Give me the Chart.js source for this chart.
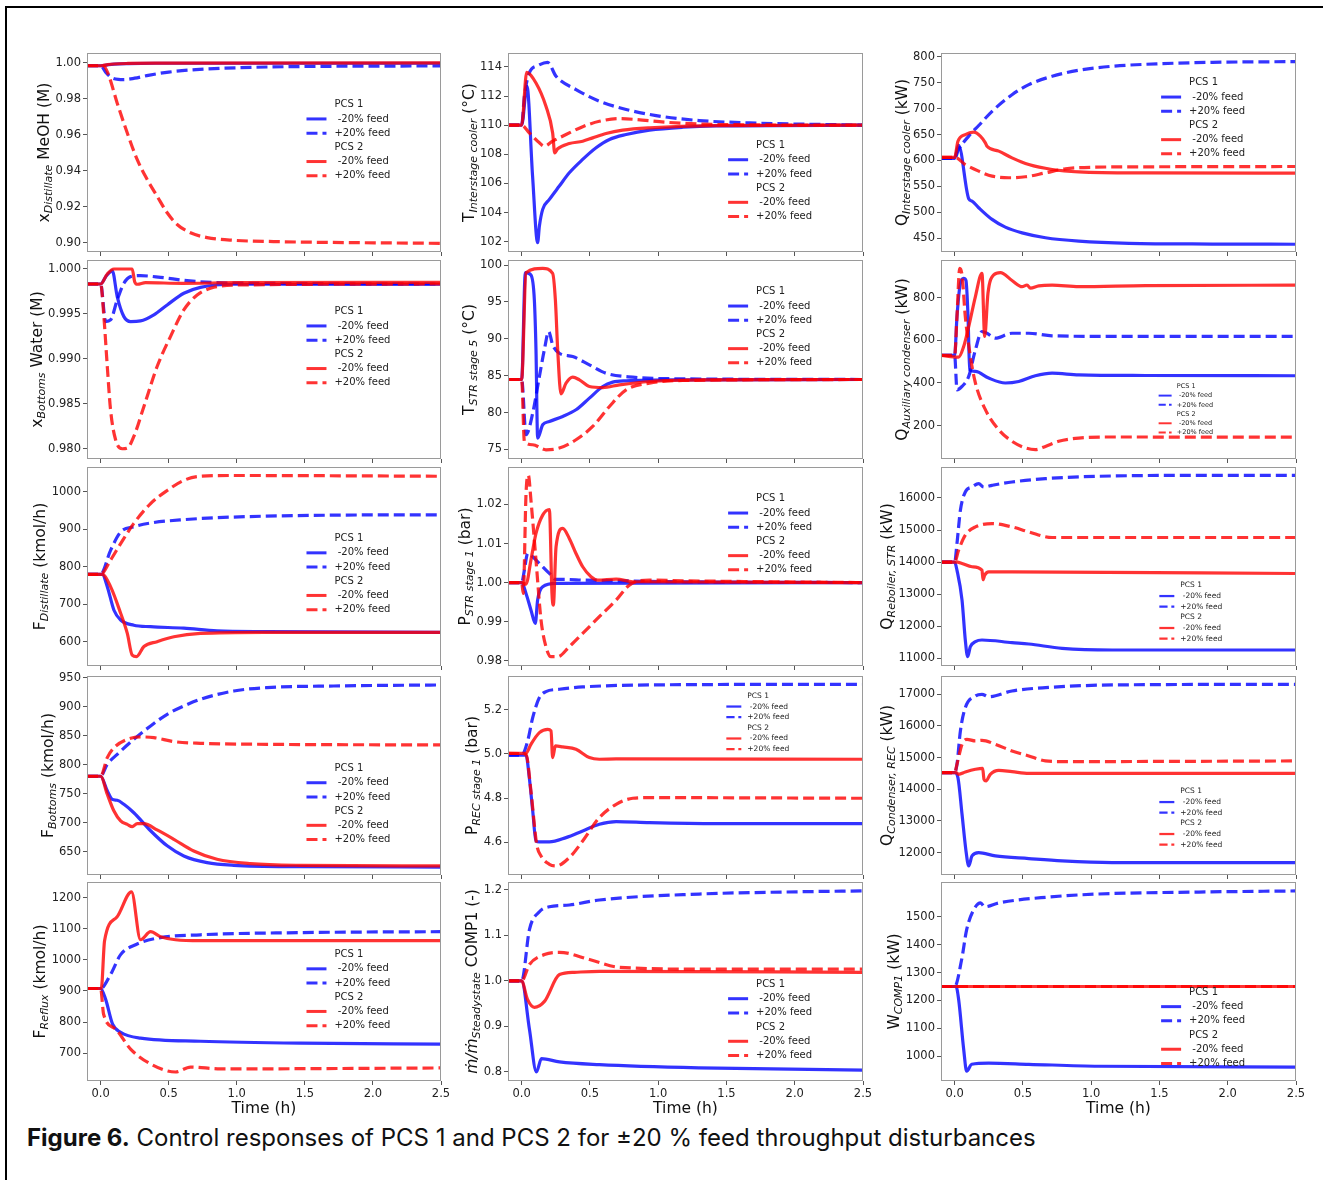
<!DOCTYPE html>
<html>
<head>
<meta charset="utf-8">
<script src="https://cdn.jsdelivr.net/npm/chart.js@4.4.1/dist/chart.umd.min.js"></script>
<style>
  body { margin: 0; background: #fff; width: 1323px; height: 1180px; position: relative; overflow: hidden; }
  #frame { position: absolute; left: 5px; top: 6px; width: 1330px; height: 1200px; border-left: 2px solid #000; border-top: 2px solid #000; }
  canvas { position: absolute; }
  #cap { position: absolute; left: 27px; top: 1124px; font: 24px Inter, 'Noto Sans', sans-serif; line-height: 28px; color: #111; white-space: nowrap; }
</style>
</head>
<body>
<div id="frame"></div>
<div id="cap"><b>Figure 6.</b> Control responses of PCS 1 and PCS 2 for ±20 % feed throughput disturbances</div>
<script>
// time axis (h)
const timeTicks = [0, 0.5, 1.0, 1.5, 2.0, 2.5];
const groupNames = ['PCS 1', 'PCS 2'];
const caseNames = [' -20% feed', '+20% feed'];

// x Distillate MeOH
const xDistTicks = [0.90, 0.92, 0.94, 0.96, 0.98, 1.00];
const xDistPcs1Minus = [[-0.1,0.9983],[0,0.9983],[0.05,0.9988],[0.1,0.9992],[0.2,0.9995],[0.4,0.9997],[2.5,0.9997]];
const xDistPcs1Plus = [[-0.1,0.9983],[0,0.9983],[0.04,0.9945],[0.08,0.9917],[0.13,0.9907],[0.17,0.9906],[0.25,0.9914],[0.35,0.9930],[0.5,0.9948],[0.7,0.9962],[1.0,0.9972],[1.5,0.9979],[2.0,0.9981],[2.5,0.9982]];
const xDistPcs2Minus = [[-0.1,0.9983],[0,0.9983],[0.05,0.9989],[0.1,0.9993],[0.2,0.9996],[0.4,0.9998],[2.5,0.9999]];
const xDistPcs2Plus = [[-0.1,0.9983],[0.02,0.9983],[0.054,0.9941],[0.122,0.9775],[0.196,0.9609],[0.269,0.9461],[0.342,0.9351],[0.415,0.9258],[0.489,0.9166],[0.562,0.9101],[0.66,0.9055],[0.782,0.9028],[0.978,0.9013],[1.27,0.9006],[2.5,0.8996]];

// T interstage cooler
const tInterTicks = [102, 104, 106, 108, 110, 112, 114];
const tInterPcs1Minus = [[-0.1,110],[0,110],[0.039,112.67],[0.08,106.5],[0.117,101.93],[0.13,103.07],[0.154,104.22],[0.203,104.9],[0.276,105.82],[0.349,106.73],[0.447,107.65],[0.545,108.45],[0.643,109.02],[0.765,109.36],[0.936,109.66],[1.18,109.86],[1.425,109.95],[2.5,110]];
const tInterPcs1Plus = [[-0.1,110],[0,110],[0.02,112],[0.056,113.59],[0.12,114.1],[0.19,114.32],[0.252,113.36],[0.398,112.45],[0.569,111.65],[0.765,111.08],[0.985,110.66],[1.3,110.32],[1.67,110.16],[2.5,110]];
const tInterPcs2Minus = [[-0.1,110],[0,110],[0.037,113.63],[0.105,112.9],[0.178,111.3],[0.227,109.47],[0.242,108.1],[0.264,108.38],[0.349,108.74],[0.447,108.9],[0.52,109.13],[0.618,109.43],[0.74,109.66],[0.936,109.82],[1.4,109.97],[2.5,110]];
const tInterPcs2Plus = [[-0.1,110],[0,110],[0.056,109.47],[0.13,108.79],[0.166,108.56],[0.227,108.9],[0.325,109.36],[0.447,109.9],[0.569,110.27],[0.716,110.45],[0.838,110.39],[1.058,110.2],[1.425,110.05],[2.5,110]];

// Q interstage cooler
const qInterTicks = [450, 500, 550, 600, 650, 700, 750, 800];
const qInterPcs1Minus = [[-0.1,604],[0,604],[0.029,629],[0.103,526],[0.127,521.4],[0.176,508.6],[0.274,486],[0.371,471],[0.494,460],[0.665,450.6],[0.909,444],[1.276,439.7],[1.887,438.4],[2.5,438]];
const qInterPcs1Plus = [[-0.1,604],[0,604],[0.029,621],[0.103,647],[0.176,667.5],[0.274,695],[0.42,727],[0.543,746.6],[0.714,762.7],[0.909,774.3],[1.153,782],[1.52,787.1],[1.887,789.7],[2.5,791]];
const qInterPcs2Minus = [[-0.1,606],[0,606],[0.024,637],[0.078,650],[0.139,654.6],[0.188,647],[0.225,634],[0.237,627.6],[0.323,618],[0.42,605],[0.543,592],[0.714,582.5],[0.909,578],[1.398,576],[2.5,575.5]];
const qInterPcs2Plus = [[-0.1,606],[0,606],[0.078,592],[0.176,579.3],[0.274,569.7],[0.396,566.5],[0.518,568.4],[0.665,576],[0.811,583.8],[1.031,587],[1.398,587.7],[2.5,588.3]];

// x Bottoms water
const xBotTicks = [0.980, 0.985, 0.990, 0.995, 1.000];
const xBotPcs1Minus = [[-0.1,0.99833],[0,0.99833],[0.04,0.9992],[0.086,0.9998],[0.122,0.99693],[0.171,0.9947],[0.22,0.99415],[0.293,0.99422],[0.391,0.99489],[0.489,0.996],[0.611,0.9973],[0.733,0.99796],[0.978,0.9983],[2.5,0.9983]];
const xBotPcs1Plus = [[-0.1,0.99833],[0,0.99833],[0.037,0.99415],[0.073,0.99433],[0.122,0.99656],[0.171,0.99841],[0.22,0.99915],[0.293,0.99926],[0.44,0.99907],[0.635,0.9987],[0.855,0.99848],[1.222,0.9984],[2.5,0.99833]];
const xBotPcs2Minus = [[-0.1,0.99833],[0,0.99833],[0.049,0.99944],[0.098,1.0],[0.232,1.0],[0.25,0.99859],[0.27,0.9983],[0.33,0.99848],[0.6,0.9984],[1.0,0.99848],[2.5,0.99852]];
const xBotPcs2Plus = [[-0.1,0.99833],[0,0.99833],[0.024,0.9947],[0.049,0.98915],[0.073,0.98433],[0.11,0.981],[0.159,0.980],[0.196,0.98007],[0.244,0.98137],[0.318,0.9847],[0.415,0.98915],[0.513,0.99248],[0.611,0.99544],[0.709,0.99711],[0.831,0.99796],[1.026,0.99822],[2.5,0.99833]];

// T STR stage 5
const tStrTicks = [75, 80, 85, 90, 95, 100];
const tStrPcs1Minus = [[-0.1,84.48],[0,84.48],[0.027,98.96],[0.068,98.65],[0.093,95.26],[0.105,88.5],[0.117,76.53],[0.154,78.34],[0.203,78.79],[0.301,79.47],[0.398,80.37],[0.496,81.95],[0.594,83.53],[0.667,84.12],[0.765,84.3],[1.2,84.43],[2.5,84.48]];
const tStrPcs1Plus = [[-0.1,84.48],[0,84.48],[0.032,76.99],[0.081,79.92],[0.13,84.88],[0.166,88.49],[0.198,90.97],[0.227,89.17],[0.276,88.04],[0.374,87.59],[0.496,86.46],[0.618,85.33],[0.814,84.79],[1.18,84.57],[2.5,84.48]];
const tStrPcs2Minus = [[-0.1,84.48],[0,84.48],[0.032,98.96],[0.154,99.55],[0.227,98.87],[0.247,95.26],[0.264,88.5],[0.288,82.54],[0.325,83.98],[0.374,84.79],[0.423,84.43],[0.496,83.53],[0.594,83.39],[0.716,83.75],[0.936,84.21],[1.425,84.43],[2.5,84.48]];
const tStrPcs2Plus = [[-0.1,84.48],[0,84.48],[0.02,76.08],[0.081,75.63],[0.178,74.95],[0.276,75.18],[0.398,76.31],[0.52,78.11],[0.643,80.82],[0.765,83.08],[0.936,83.98],[1.18,84.34],[2.5,84.48]];

// Q auxiliary condenser
const qAuxTicks = [200, 400, 600, 800];
const qAuxPcs1Minus = [[-0.1,529],[0,529],[0.017,711],[0.042,867],[0.066,890],[0.083,880],[0.098,711],[0.11,462],[0.152,454],[0.249,423],[0.371,400],[0.469,407],[0.591,434],[0.714,446],[0.909,438],[1.398,435],[2.5,434]];
const qAuxPcs1Plus = [[-0.1,529],[0,529],[0.017,368],[0.054,384],[0.103,431],[0.152,555],[0.2,641],[0.237,633],[0.298,610],[0.42,633],[0.543,633],[0.714,621],[1.153,618],[2.5,618]];
const qAuxPcs2Minus = [[-0.1,529],[0.029,521],[0.066,571],[0.103,664],[0.152,805],[0.2,914],[0.22,618],[0.244,820],[0.286,906],[0.335,917],[0.42,880],[0.494,851],[0.53,859],[0.555,844],[0.616,855],[0.714,858],[0.909,851],[1.398,856],[2.5,858]];
const qAuxPcs2Plus = [[-0.1,529],[0,529],[0.017,711],[0.037,937],[0.054,906],[0.078,711],[0.115,524],[0.152,400],[0.225,275],[0.323,181],[0.42,127],[0.518,96],[0.591,88],[0.665,103],[0.762,127],[0.909,142],[1.153,147],[2.5,146]];

// F Distillate
const fDistTicks = [600, 700, 800, 900, 1000];
const fDistPcs1Minus = [[-0.1,780],[0.012,780],[0.049,747],[0.098,684],[0.147,658],[0.244,644],[0.367,640],[0.611,636],[0.855,629],[1.222,627],[2.5,625]];
const fDistPcs1Plus = [[-0.1,780],[0,780],[0.073,844],[0.147,893],[0.244,907],[0.367,917],[0.611,926],[0.978,933],[1.711,938],[2.5,939]];
const fDistPcs2Minus = [[-0.1,780],[0.012,780],[0.073,747],[0.147,676],[0.196,622],[0.232,564],[0.264,560],[0.318,587],[0.415,600],[0.538,613],[0.733,622],[1.2,625],[2.5,625]];
const fDistPcs2Plus = [[-0.1,780],[0,780],[0.073,818],[0.147,862],[0.244,916],[0.367,969],[0.489,1004],[0.611,1031],[0.733,1042],[0.978,1044],[2.5,1042]];

// P STR stage 1
const pStrTicks = [0.98, 0.99, 1.00, 1.01, 1.02];
const pStrPcs1Minus = [[-0.1,1.0],[0,1.0],[0.032,0.99723],[0.068,0.993],[0.1,0.98955],[0.117,0.99552],[0.154,0.99893],[0.252,0.99979],[2.5,1.0]];
const pStrPcs1Plus = [[-0.1,1.0],[0,1.0],[0.02,1.0032],[0.044,1.00746],[0.081,1.0066],[0.13,1.0049],[0.203,1.00234],[0.252,1.00081],[0.325,1.00081],[0.447,1.00064],[0.692,1.00047],[1.2,1.0002],[2.5,1.0]];
const pStrPcs2Minus = [[-0.1,1.0],[0,1.0],[0.032,0.99962],[0.068,1.00576],[0.105,1.01258],[0.154,1.01727],[0.203,1.01872],[0.222,0.99723],[0.232,0.99424],[0.252,1.00917],[0.301,1.01386],[0.349,1.0113],[0.398,1.00746],[0.447,1.00405],[0.508,1.0015],[0.557,1.00064],[0.692,1.0009],[0.814,1.00021],[2.5,1.0]];
const pStrPcs2Plus = [[-0.1,1.0],[0,1.0],[0.012,0.99723],[0.032,1.02281],[0.049,1.0275],[0.068,1.02111],[0.105,1.00576],[0.142,0.9904],[0.178,0.98358],[0.215,0.98102],[0.264,0.98102],[0.349,0.98358],[0.447,0.98699],[0.569,0.99126],[0.692,0.99552],[0.789,0.99936],[0.936,1.00064],[1.18,1.00047],[2.5,1.0]];

// Q reboiler STR
const qRebTicks = [11000, 12000, 13000, 14000, 15000, 16000];
const qRebPcs1Minus = [[-0.1,14000],[0,14000],[0.017,13749],[0.054,12815],[0.078,11571],[0.095,11052],[0.115,11363],[0.152,11519],[0.2,11571],[0.42,11488],[0.543,11446],[0.787,11311],[1.153,11259],[2.5,11259]];
const qRebPcs1Plus = [[-0.1,14000],[0,14000],[0.017,14579],[0.042,15616],[0.078,16187],[0.127,16342],[0.176,16446],[0.213,16342],[0.274,16394],[0.42,16498],[0.665,16602],[1.153,16685],[1.887,16705],[2.5,16705]];
const qRebPcs2Minus = [[-0.1,14000],[0.02,14000],[0.054,13958],[0.127,13855],[0.2,13751],[0.208,13450],[0.22,13593],[0.249,13697],[0.42,13697],[2.5,13645]];
const qRebPcs2Plus = [[-0.1,14000],[0,14000],[0.029,14371],[0.078,14838],[0.152,15097],[0.274,15201],[0.42,15097],[0.543,14942],[0.714,14766],[2.5,14766]];

// F Bottoms
const fBotTicks = [650, 700, 750, 800, 850, 900, 950];
const fBotPcs1Minus = [[-0.1,780],[0,780],[0.049,755],[0.086,740],[0.122,738.5],[0.171,731.6],[0.244,717],[0.367,686],[0.489,660],[0.611,642.5],[0.782,631],[0.978,626.4],[1.466,624.1],[2.5,623.4]];
const fBotPcs1Plus = [[-0.1,780],[0,780],[0.049,800.6],[0.122,817.8],[0.244,843.7],[0.367,866.7],[0.489,886.8],[0.611,901.1],[0.733,912.6],[0.978,927],[1.222,932.8],[1.711,935.6],[2.5,937.4]];
const fBotPcs2Minus = [[-0.1,780],[0,780],[0.049,748.9],[0.098,720],[0.147,703],[0.196,697],[0.232,693],[0.269,698.3],[0.318,698.3],[0.415,687.4],[0.538,671.3],[0.684,651],[0.855,636.8],[1.1,629.3],[1.466,626.4],[2.5,625.3]];
const fBotPcs2Plus = [[-0.1,780],[0,780],[0.049,812],[0.098,829],[0.196,843.7],[0.293,847.7],[0.391,846.6],[0.538,839.7],[0.733,836.8],[1.222,835],[2.5,834]];

// P REC stage 1
const pRecTicks = [4.6, 4.8, 5.0, 5.2];
const pRecPcs1Minus = [[-0.1,4.9935],[0.032,4.9935],[0.056,4.8924],[0.081,4.7417],[0.105,4.606],[0.13,4.6015],[0.203,4.6015],[0.325,4.6211],[0.447,4.6512],[0.569,4.6814],[0.692,4.6934],[0.936,4.6889],[1.425,4.6844],[2.5,4.6844]];
const pRecPcs1Plus = [[-0.1,4.9935],[0,4.9935],[0.044,5.0583],[0.081,5.1638],[0.13,5.2543],[0.178,5.2814],[0.276,5.292],[0.447,5.3025],[0.936,5.3116],[2.5,5.3146]];
const pRecPcs2Minus = [[-0.1,5.0025],[0.032,5.0025],[0.068,5.0432],[0.13,5.096],[0.191,5.111],[0.215,5.1035],[0.227,4.9829],[0.247,5.0357],[0.301,5.0312],[0.398,5.0206],[0.496,4.9829],[0.569,4.9754],[0.692,4.9769],[2.5,4.9754]];
const pRecPcs2Plus = [[-0.1,5.0025],[0.032,4.998],[0.068,4.8321],[0.11,4.5909],[0.142,4.5382],[0.203,4.5005],[0.252,4.4929],[0.349,4.5306],[0.447,4.606],[0.569,4.7115],[0.692,4.7718],[0.814,4.799],[0.936,4.802],[2.5,4.799]];

// Q condenser REC
const qCondTicks = [12000, 13000, 14000, 15000, 16000, 17000];
const qCondPcs1Minus = [[-0.1,14526],[0,14526],[0.024,14368],[0.054,13211],[0.083,12053],[0.103,11579],[0.127,11895],[0.176,12000],[0.298,11895],[0.543,11811],[0.787,11737],[1.153,11684],[2.5,11684]];
const qCondPcs1Plus = [[-0.1,14526],[0,14526],[0.017,14789],[0.042,15842],[0.078,16579],[0.152,16947],[0.2,17000],[0.249,16926],[0.42,17105],[0.665,17211],[1.153,17295],[2.5,17316]];
const qCondPcs2Minus = [[-0.1,14526],[0.01,14526],[0.029,14474],[0.078,14547],[0.152,14632],[0.205,14663],[0.215,14316],[0.23,14263],[0.261,14474],[0.323,14600],[0.42,14558],[0.543,14505],[2.5,14505]];
const qCondPcs2Plus = [[-0.1,14526],[0,14526],[0.017,14789],[0.054,15421],[0.09,15579],[0.152,15526],[0.2,15547],[0.298,15421],[0.42,15211],[0.543,15053],[0.665,14895],[0.787,14874],[2.5,14895]];

// F Reflux
const fRefTicks = [700, 800, 900, 1000, 1100, 1200];
const fRefPcs1Minus = [[-0.1,908],[0,908],[0.037,873],[0.088,793],[0.147,767],[0.293,748],[0.733,738],[1.466,732],[2.5,729]];
const fRefPcs1Plus = [[-0.1,908],[0,908],[0.073,953],[0.147,1017],[0.257,1049],[0.44,1072],[0.733,1081],[1.466,1088],[2.5,1091]];
const fRefPcs2Minus = [[-0.1,908],[0.005,908],[0.029,1062],[0.12,1138],[0.227,1219],[0.293,1065],[0.367,1091],[0.44,1075],[0.55,1065],[0.733,1062],[2.5,1062]];
const fRefPcs2Plus = [[-0.1,908],[0,908],[0.022,825],[0.11,777],[0.22,713],[0.367,665],[0.55,639],[0.66,655],[0.88,649],[2.5,652]];

// mass flow ratio COMP1
const mRatTicks = [0.8, 0.9, 1.0, 1.1, 1.2];
const mRatPcs1Minus = [[-0.1,1.0],[0,1.0],[0.057,0.894],[0.108,0.80],[0.145,0.829],[0.277,0.822],[0.57,0.816],[1.3,0.809],[2.5,0.804]];
const mRatPcs1Plus = [[-0.1,1.0],[0,1.0],[0.057,1.113],[0.13,1.152],[0.203,1.163],[0.35,1.167],[0.57,1.178],[1.3,1.191],[2.03,1.196],[2.5,1.198]];
const mRatPcs2Minus = [[-0.1,1.0],[0,1.0],[0.042,0.96],[0.093,0.942],[0.167,0.955],[0.277,1.014],[0.387,1.019],[0.57,1.021],[2.5,1.019]];
const mRatPcs2Plus = [[-0.1,1.0],[0,1.0],[0.057,1.036],[0.167,1.058],[0.277,1.063],[0.497,1.047],[0.717,1.03],[1.3,1.026],[2.5,1.026]];

// W COMP1
const wCompTicks = [1000, 1100, 1200, 1300, 1400, 1500];
const wCompPcs1Minus = [[-0.1,1250],[0.01,1250],[0.029,1204],[0.066,1025],[0.088,946],[0.125,971],[0.249,975],[0.543,971],[1.056,964],[2.5,961]];
const wCompPcs1Plus = [[-0.1,1250],[0,1250],[0.051,1346],[0.088,1454],[0.139,1525],[0.19,1550],[0.22,1536],[0.323,1550],[0.689,1571],[1.056,1582],[1.789,1589],[2.5,1593]];
const wCompPcs2Minus = [[-0.1,1250],[2.5,1250]];
const wCompPcs2Plus = [[-0.1,1250],[2.5,1250]];

const BLUE = 'rgba(0,0,255,0.8)';
const RED = 'rgba(255,0,0,0.8)';
const DASH = [11, 5];
const FONT = "'DejaVu Sans', sans-serif";
const TICK_SIZE = 11.5;

const colLeft = [87, 508, 941];
const colW = [354, 355, 355];
const rowTop = [53, 260, 467, 676, 882];
const plotH = 199;

// panel table: series, ticks, decimals, range, label parts, legend [xFrac, yFrac, fontSize]
const panels = [
  { s: [xDistPcs1Minus, xDistPcs1Plus, xDistPcs2Minus, xDistPcs2Plus], t: xDistTicks, d: 2, r: [0.8948, 1.0054], lab: ['x', 'Distillate', ' MeOH (M)'], leg: [0.62, 0.26, 10] },
  { s: [tInterPcs1Minus, tInterPcs1Plus, tInterPcs2Minus, tInterPcs2Plus], t: tInterTicks, d: 0, r: [101.29, 114.96], lab: ['T', 'Interstage cooler', ' (°C)'], leg: [0.62, 0.465, 10] },
  { s: [qInterPcs1Minus, qInterPcs1Plus, qInterPcs2Minus, qInterPcs2Plus], t: qInterTicks, d: 0, r: [423, 807.7], lab: ['Q', 'Interstage cooler', ' (kW)'], leg: [0.62, 0.15, 10] },
  { s: [xBotPcs1Minus, xBotPcs1Plus, xBotPcs2Minus, xBotPcs2Plus], t: xBotTicks, d: 3, r: [0.97886, 1.001], lab: ['x', 'Bottoms', ' Water (M)'], leg: [0.62, 0.26, 10] },
  { s: [tStrPcs1Minus, tStrPcs1Plus, tStrPcs2Minus, tStrPcs2Plus], t: tStrTicks, d: 0, r: [73.7, 100.68], lab: ['T', 'STR stage 5', ' (°C)'], leg: [0.62, 0.16, 10] },
  { s: [qAuxPcs1Minus, qAuxPcs1Plus, qAuxPcs2Minus, qAuxPcs2Plus], t: qAuxTicks, d: 0, r: [44, 976], lab: ['Q', 'Auxiliary condenser', ' (kW)'], leg: [0.613, 0.635, 6.5] },
  { s: [fDistPcs1Minus, fDistPcs1Plus, fDistPcs2Minus, fDistPcs2Plus], t: fDistTicks, d: 0, r: [535, 1066.7], lab: ['F', 'Distillate', ' (kmol/h)'], leg: [0.62, 0.36, 10] },
  { s: [pStrPcs1Minus, pStrPcs1Plus, pStrPcs2Minus, pStrPcs2Plus], t: pStrTicks, d: 2, r: [0.97864, 1.0296], lab: ['P', 'STR stage 1', ' (bar)'], leg: [0.62, 0.16, 10] },
  { s: [qRebPcs1Minus, qRebPcs1Plus, qRebPcs2Minus, qRebPcs2Plus], t: qRebTicks, d: 0, r: [10760, 16965], lab: ['Q', 'Reboiler, STR', ' (kW)'], leg: [0.615, 0.595, 7.5] },
  { s: [fBotPcs1Minus, fBotPcs1Plus, fBotPcs2Minus, fBotPcs2Plus], t: fBotTicks, d: 0, r: [609.7, 952.8], lab: ['F', 'Bottoms', ' (kmol/h)'], leg: [0.62, 0.465, 10] },
  { s: [pRecPcs1Minus, pRecPcs1Plus, pRecPcs2Minus, pRecPcs2Plus], t: pRecTicks, d: 1, r: [4.452, 5.352], lab: ['P', 'REC stage 1', ' (bar)'], leg: [0.615, 0.10, 7.5] },
  { s: [qCondPcs1Minus, qCondPcs1Plus, qCondPcs2Minus, qCondPcs2Plus], t: qCondTicks, d: 0, r: [11293, 17578], lab: ['Q', 'Condenser, REC', ' (kW)'], leg: [0.615, 0.58, 7.5] },
  { s: [fRefPcs1Minus, fRefPcs1Plus, fRefPcs2Minus, fRefPcs2Plus], t: fRefTicks, d: 0, r: [610, 1251], lab: ['F', 'Reflux', ' (kmol/h)'], leg: [0.62, 0.365, 10] },
  { s: [mRatPcs1Minus, mRatPcs1Plus, mRatPcs2Minus, mRatPcs2Plus], t: mRatTicks, d: 1, r: [0.780, 1.2175], lab: ['ṁ/ṁ', 'Steadystate', ' COMP1 (-)'], it: true, leg: [0.62, 0.515, 10] },
  { s: [wCompPcs1Minus, wCompPcs1Plus, wCompPcs2Minus, wCompPcs2Plus], t: wCompTicks, d: 0, r: [911, 1625], lab: ['W', 'COMP1', ' (kW)'], leg: [0.62, 0.555, 10] }
];

Chart.defaults.font.family = FONT;
Chart.defaults.color = '#222';

function framePlugin() {
  return {
    id: 'frame',
    afterDraw(chart) {
      const a = chart.chartArea, ctx = chart.ctx;
      ctx.save();
      ctx.strokeStyle = '#9a9a9a';
      ctx.lineWidth = 1;
      ctx.strokeRect(Math.round(a.left) + 0.5, Math.round(a.top) + 0.5, Math.round(a.right - a.left) - 1, Math.round(a.bottom - a.top) - 1);
      ctx.restore();
    }
  };
}

function yLabelPlugin(p) {
  return {
    id: 'ylab',
    afterDraw(chart) {
      const a = chart.chartArea, ctx = chart.ctx;
      ctx.save();
      ctx.font = TICK_SIZE + 'px ' + FONT;
      let mw = 0;
      p.t.forEach(v => { mw = Math.max(mw, ctx.measureText(v.toFixed(p.d)).width); });
      const bx = a.left - mw - 12.5;
      const fMain = (p.it ? 'italic ' : '') + '15.5px ' + FONT;
      const fSub = 'italic 11px ' + FONT;
      const fRest = '15.5px ' + FONT;
      ctx.font = fMain; const w0 = ctx.measureText(p.lab[0]).width;
      ctx.font = fSub; const w1 = ctx.measureText(p.lab[1]).width;
      ctx.font = fRest; const w2 = ctx.measureText(p.lab[2]).width;
      ctx.translate(bx, (a.top + a.bottom) / 2);
      ctx.rotate(-Math.PI / 2);
      ctx.fillStyle = '#111';
      ctx.textBaseline = 'alphabetic';
      let x = -(w0 + w1 + w2) / 2;
      ctx.font = fMain; ctx.fillText(p.lab[0], x, 0); x += w0;
      ctx.font = fSub; ctx.fillText(p.lab[1], x, 3.2); x += w1;
      ctx.font = fRest; ctx.fillText(p.lab[2], x, 0);
      ctx.restore();
    }
  };
}

function legendPlugin(p) {
  return {
    id: 'leg',
    afterDraw(chart) {
      const a = chart.chartArea, ctx = chart.ctx;
      const [fx, fy, sz] = p.leg;
      const x0 = a.left + fx * (a.right - a.left);
      const y0 = a.top + fy * (a.bottom - a.top);
      const rowH = sz * 1.42;
      const rows = [
        [groupNames[0]], [caseNames[0], BLUE, []], [caseNames[1], BLUE, [sz * 1.1, sz * 0.5]],
        [groupNames[1]], [caseNames[0], RED, []], [caseNames[1], RED, [sz * 1.1, sz * 0.5]]
      ];
      ctx.save();
      ctx.font = sz + 'px ' + FONT;
      ctx.textBaseline = 'middle';
      rows.forEach((r, i) => {
        const y = y0 + i * rowH;
        if (r[1]) {
          ctx.strokeStyle = r[1];
          ctx.lineWidth = sz * 0.3;
          ctx.setLineDash(r[2]);
          ctx.beginPath();
          ctx.moveTo(x0, y);
          ctx.lineTo(x0 + 2 * sz, y);
          ctx.stroke();
        }
        ctx.setLineDash([]);
        ctx.fillStyle = '#222';
        ctx.fillText(r[0], x0 + 2.8 * sz, y);
      });
      ctx.restore();
    }
  };
}

panels.forEach((p, i) => {
  const row = Math.floor(i / 3), col = i % 3;
  const last = row === 4;
  const xH = last ? 38 : 6;
  const cv = document.createElement('canvas');
  const W = 87 + colW[col] + 12;
  const H = 10 + plotH + xH;
  cv.width = W; cv.height = H;
  cv.style.left = (colLeft[col] - 87) + 'px';
  cv.style.top = (rowTop[row] - 10) + 'px';
  document.body.appendChild(cv);

  const styles = [
    { color: BLUE, dash: [], order: 3 },
    { color: BLUE, dash: DASH, order: 2 },
    { color: RED, dash: [], order: 1 },
    { color: RED, dash: DASH, order: 0 }
  ];
  const labels = [groupNames[0] + caseNames[0], groupNames[0] + caseNames[1], groupNames[1] + caseNames[0], groupNames[1] + caseNames[1]];

  new Chart(cv, {
    type: 'line',
    data: {
      datasets: p.s.map((pts, k) => ({
        label: labels[k],
        data: pts.map(q => ({ x: q[0], y: q[1] })),
        borderColor: styles[k].color,
        borderDash: styles[k].dash,
        borderWidth: 3.2,
        borderCapStyle: 'butt',
        borderJoinStyle: 'round',
        pointRadius: 0,
        fill: false,
        cubicInterpolationMode: 'monotone',
        order: styles[k].order
      }))
    },
    options: {
      responsive: false,
      animation: false,
      events: [],
      layout: { padding: { left: 0, top: 10, right: 12, bottom: 0 } },
      plugins: { legend: { display: false }, tooltip: { enabled: false } },
      scales: {
        x: {
          type: 'linear', min: -0.1, max: 2.5,
          afterBuildTicks: s => { s.ticks = timeTicks.map(v => ({ value: v })); },
          afterFit: s => { s.height = xH; s.paddingLeft = 0; s.paddingRight = 0; },
          grid: { drawOnChartArea: false, drawTicks: true, tickLength: 4, color: '#555' },
          border: { display: false },
          ticks: { display: last, font: { size: TICK_SIZE }, color: '#222', padding: 2, maxRotation: 0, autoSkip: false, callback: v => v.toFixed(1) },
          title: { display: last, text: 'Time (h)', font: { size: 15.5 }, color: '#111', padding: { top: 0, bottom: 1 } }
        },
        y: {
          type: 'linear', min: p.r[0], max: p.r[1],
          afterBuildTicks: s => { s.ticks = p.t.map(v => ({ value: v })); },
          afterFit: s => { s.width = 87; s.paddingTop = 0; s.paddingBottom = 0; },
          grid: { drawOnChartArea: false, drawTicks: true, tickLength: 4, color: '#555' },
          border: { display: false },
          ticks: { font: { size: TICK_SIZE }, color: '#222', padding: 2, autoSkip: false, callback: v => Number(v).toFixed(p.d) }
        }
      }
    },
    plugins: [framePlugin(), yLabelPlugin(p), legendPlugin(p)]
  });
});
</script>
</body>
</html>
